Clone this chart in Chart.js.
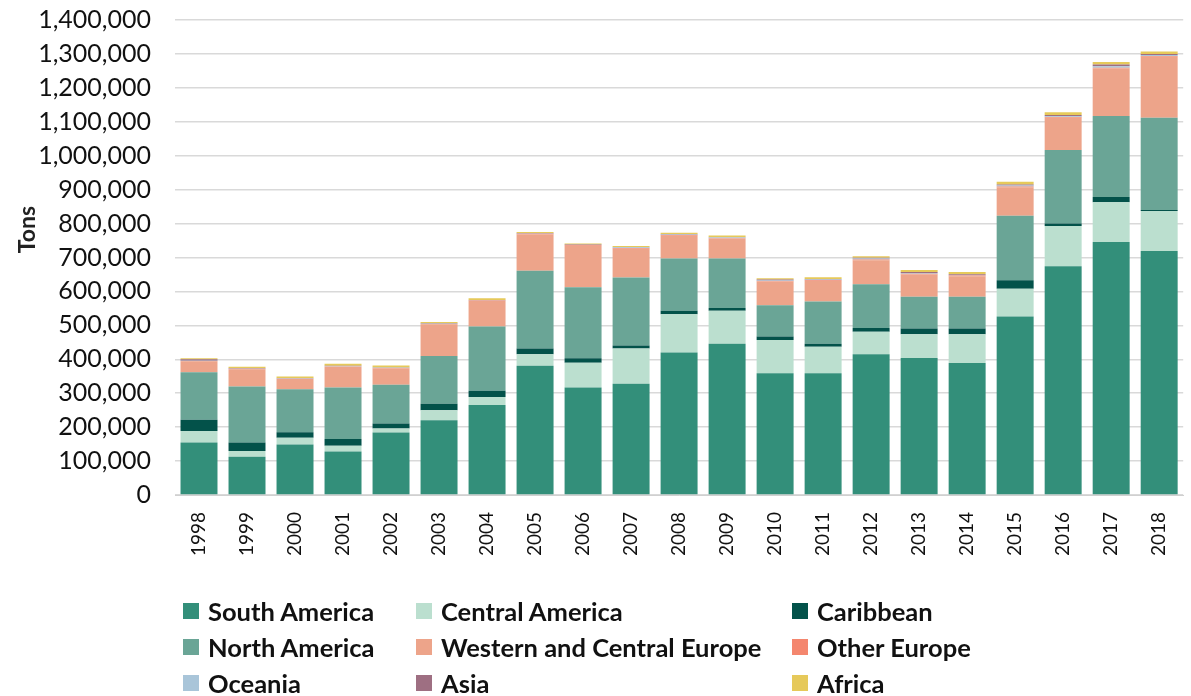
<!DOCTYPE html>
<html>
<head>
<meta charset="utf-8">
<script src="https://cdn.jsdelivr.net/npm/chart.js@4"></script>
<style>
  html, body { margin: 0; padding: 0; background: #fff; }
  #wrap { position: relative; width: 1191px; height: 696px; }
  #legend {
    position: absolute; left: 183px; top: 593px;
    display: grid; grid-template-columns: 233px 376px 300px; grid-auto-rows: 36px;
    font-family: Lato, 'Open Sans', sans-serif; font-weight: 700; font-size: 25.5px; color: #111;
  }
  #legend div { display: flex; align-items: center; white-space: nowrap; }
  #legend span { display: inline-block; width: 16px; height: 16px; margin-right: 9px; }
</style>
</head>
<body>
<div id="wrap">
  <canvas id="chart" width="1191" height="696"></canvas>
  <div id="legend"></div>
</div>
<script>
const years = ['1998','1999','2000','2001','2002','2003','2004','2005','2006','2007','2008','2009','2010','2011','2012','2013','2014','2015','2016','2017','2018'];

const southAmerica   = [155,113,149,128,184,220,265,381,317,328,420,446,359,359,415,404,389,526,674,746,719];
const centralAmerica = [34,17,20,17,12,30,24,34,73,104,113,97,98,78,66,70,85,82,119,117,118];
const caribbean      = [33,25,16,20,15,19,18,17,13,9,10,8,10,9,11,17,17,25,7,15,3];
const northAmerica   = [140,165,127,152,114,141,190,229,209,200,154,146,92,124,129,93,93,190,217,239,272];
const westCentralEu  = [32,51,30,61,48,93,75,107,122,85,67,58,70,61,71,66,61,84,95,140,180];
const otherEurope    = [1,1,1,1,1,1,1,2,2,2,2,2,2,2,2,2,2,2,2,2,2];
const oceania        = [1,1,1,1,1,1,1,1,1,2,2,2,1,2,3,2,1,3,2,5,3];
const asia           = [4,1,1,1,1,1,1,1,1,1,1,1,3,2,2,3,3,3,4,5,3];
const africa         = [3,4,4,6,6,4,5,3,3,3,4,5,4,5,5,6,6,8,8,7,7];

const yTicks = [0,100000,200000,300000,400000,500000,600000,700000,800000,900000,1000000,1100000,1200000,1300000,1400000];

const series = [
  { label: 'South America', data: southAmerica, color: '#338f7a' },
  { label: 'Central America', data: centralAmerica, color: '#bbdfcf' },
  { label: 'Caribbean', data: caribbean, color: '#03524a' },
  { label: 'North America', data: northAmerica, color: '#6aa596' },
  { label: 'Western and Central Europe', data: westCentralEu, color: '#eda48a' },
  { label: 'Other Europe', data: otherEurope, color: '#f4866e' },
  { label: 'Oceania', data: oceania, color: '#a9c5d9' },
  { label: 'Asia', data: asia, color: '#9e6f82' },
  { label: 'Africa', data: africa, color: '#e6c95a' },
];

const font = 'Lato';

new Chart(document.getElementById('chart').getContext('2d'), {
  type: 'bar',
  data: {
    labels: years,
    datasets: series.map(s => ({
      label: s.label,
      data: s.data.map(v => v * 1000),
      backgroundColor: s.color,
      borderWidth: 0,
      barPercentage: 0.77,
      categoryPercentage: 1,
    }))
  },
  options: {
    responsive: false, animation: false,
    layout: { padding: { top: 20, right: 1, bottom: 131, left: 0 } },
    plugins: { legend: { display: false }, tooltip: { enabled: false } },
    scales: {
      x: {
        stacked: true,
        grid: { display: false },
        border: { color: '#d0d0d0' },
        ticks: { color: '#111', autoSkip: false, minRotation: 90, maxRotation: 90, font: { family: font, size: 19 }, padding: 9 },
        afterFit: s => { s.height = 70; }
      },
      y: {
        stacked: true, min: 0, max: 1400000,
        afterBuildTicks: s => { s.ticks = yTicks.map(v => ({ value: v })); },
        grid: { color: '#d9d9d9', lineWidth: 1.5, tickLength: 22, tickColor: 'rgba(0,0,0,0)' },
        border: { display: false },
        ticks: { color: '#111', autoSkip: false, font: { family: font, size: 25 }, padding: 2,
          callback: v => v.toLocaleString('en-US') },
        title: { display: true, text: '          Tons', color: '#222', font: { family: font, size: 23, weight: '700' }, padding: { top: 14, bottom: 0 } },
        afterFit: s => { s.width = 175; }
      }
    }
  }
});

const legend = document.getElementById('legend');
series.forEach(s => {
  const d = document.createElement('div');
  d.innerHTML = '<span style="background:' + s.color + '"></span>' + s.label;
  legend.appendChild(d);
});
</script>
</body>
</html>
